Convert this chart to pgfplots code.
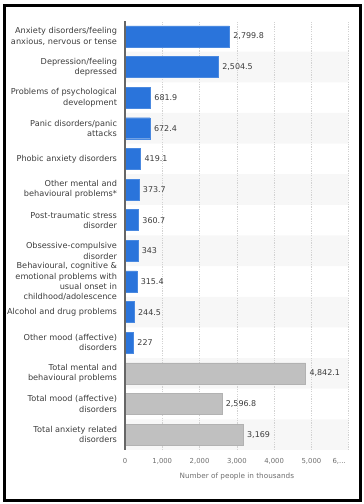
\documentclass[border=0pt]{standalone}
\usepackage{pgfplots}
\pgfplotsset{compat=1.18}
\usepackage{fontspec}
\setmainfont{DejaVu Sans}
\definecolor{barblue}{RGB}{42,116,219}
\definecolor{bargrey}{RGB}{192,192,192}
\definecolor{txt}{RGB}{60,60,60}
\definecolor{tick}{RGB}{110,110,110}
\definecolor{stripe}{RGB}{247,247,247}
\begin{document}
\begin{tikzpicture}
\begin{axis}[
  set layers,
  at={(125bp,54bp)}, anchor=south west,
  scale only axis, width=223.7bp, height=429bp,
  xmin=0, xmax=6000, ymin=-0.5, ymax=13.5,
  xbar, bar width=21bp, bar shift=0pt,
  axis line style={draw=none},
  major tick length=0pt,
  xtick={0,1000,2000,3000,4000,5000,6000},
  xticklabels={0,{1,000},{2,000},{3,000},{4,000},{5,000},{\makebox[0pt][r]{6,...\kern3bp}}},
  xmajorgrids, major grid style={gray!35, dash pattern=on 1.2bp off 1.2bp, line width=0.5bp},
  ytick={0,...,13},
  yticklabels={
    {Total anxiety related\\disorders},
    {Total mood (affective)\\disorders},
    {Total mental and\\behavioural problems},
    {Other mood (affective)\\disorders},
    {Alcohol and drug problems},
    {Behavioural, cognitive \&\\emotional problems with\\usual onset in\\childhood/adolescence},
    {Obsessive-compulsive\\disorder},
    {Post-traumatic stress\\disorder},
    {Other mental and\\behavioural problems*},
    {Phobic anxiety disorders},
    {Panic disorders/panic\\attacks},
    {Problems of psychological\\development},
    {Depression/feeling\\depressed},
    {Anxiety disorders/feeling\\anxious, nervous or tense}},
  yticklabel style={align=right, font=\fontsize{8.2}{10.4}\selectfont, text=txt, xshift=-4.5bp},
  xticklabel style={font=\fontsize{6.9}{8}\selectfont, text=tick, yshift=-5bp},
  xlabel={Number of people in thousands},
  xlabel style={font=\fontsize{7.3}{8}\selectfont, text=tick, yshift=-1.5bp},
  point meta=explicit symbolic,
  clip=false,
]
\addplot[on layer=axis background, fill=stripe, draw=none, bar width=30.64bp] table[x=x, y=y] {
x y
6000 0
6000 2
6000 4
6000 6
6000 8
6000 10
6000 12
};
\addplot[fill=barblue, draw=barblue!85!white, nodes near coords,
  every node near coord/.append style={font=\fontsize{8}{9}\selectfont, text=txt, anchor=west, xshift=0.5bp}] table[x=x, y=y, meta=lab] {
x y lab
2799.8 13 2,799.8
2504.5 12 2,504.5
681.9 11 681.9
672.4 10 672.4
419.1 9 419.1
373.7 8 373.7
360.7 7 360.7
343 6 343
315.4 5 315.4
244.5 4 244.5
227 3 227
};
\addplot[fill=bargrey, draw=black!30, nodes near coords,
  every node near coord/.append style={font=\fontsize{8}{9}\selectfont, text=txt, anchor=west, xshift=0.5bp}] table[x=x, y=y, meta=lab] {
x y lab
4842.1 2 4,842.1
2596.8 1 2,596.8
3169 0 3,169
};
\draw[black!60, line width=1.5bp] (rel axis cs:0,0) -- (rel axis cs:0,1);
\end{axis}
\draw[black, line width=3bp] (4.5bp,3.5bp) rectangle (360.5bp,498.5bp);
\useasboundingbox (0,0) rectangle (364bp,504bp);
\end{tikzpicture}
\end{document}
